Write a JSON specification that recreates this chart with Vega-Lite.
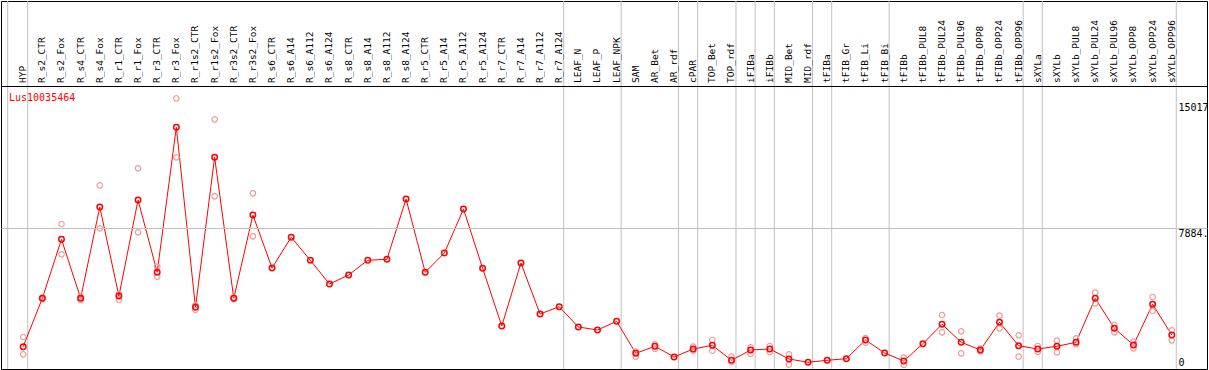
{
  "$schema": "https://vega.github.io/schema/vega-lite/v6.json",
  "width": 1206,
  "height": 368,
  "autosize": {"type": "none"},
  "padding": {"left": 1, "top": 1, "right": 2, "bottom": 1},
  "background": "white",
  "config": {"view": {"stroke": "black", "strokeWidth": 1}, "font": "DejaVu Sans Mono"},
  "title": {"text": "Lus10035464", "anchor": "start", "frame": "group", "orient": "top", "offset": -110, "dx": 8, "color": "#ff0000", "font": "DejaVu Sans Mono", "fontSize": 10, "fontWeight": "normal", "baseline": "alphabetic"},
  "datasets": {
    "means": [
      {"cat": "HYP", "value": 1188}, {"cat": "R_s2_CTR", "value": 3925}, {"cat": "R_s2_Fox", "value": 7262}, {"cat": "R_s4_CTR", "value": 3925}, {"cat": "R_s4_Fox", "value": 9089}, {"cat": "R_r1_CTR", "value": 4055}, {"cat": "R_r1_Fox", "value": 9485}, {"cat": "R_r3_CTR", "value": 5396}, {"cat": "R_r3_Fox", "value": 13597}, {"cat": "R_r1s2_CTR", "value": 3416}, {"cat": "R_r1s2_Fox", "value": 11900}, {"cat": "R_r3s2_CTR", "value": 3925}, {"cat": "R_r3s2_Fox", "value": 8637}, {"cat": "R_s6_CTR", "value": 5639}, {"cat": "R_s6_A14", "value": 7381}, {"cat": "R_s6_A112", "value": 6075}, {"cat": "R_s6_A124", "value": 4734}, {"cat": "R_s8_CTR", "value": 5243}, {"cat": "R_s8_A14", "value": 6075}, {"cat": "R_s8_A112", "value": 6131}, {"cat": "R_s8_A124", "value": 9542}, {"cat": "R_r5_CTR", "value": 5396}, {"cat": "R_r5_A14", "value": 6487}, {"cat": "R_r5_A112", "value": 8976}, {"cat": "R_r5_A124", "value": 5622}, {"cat": "R_r7_CTR", "value": 2359}, {"cat": "R_r7_A14", "value": 5922}, {"cat": "R_r7_A112", "value": 3037}, {"cat": "R_r7_A124", "value": 3450}, {"cat": "LEAF_N", "value": 2302}, {"cat": "LEAF_P", "value": 2132}, {"cat": "LEAF_NPK", "value": 2624}, {"cat": "SAM", "value": 814}, {"cat": "AR_Bet", "value": 1210}, {"cat": "AR_rdf", "value": 605}, {"cat": "cPAR", "value": 1058}, {"cat": "TOP_Bet", "value": 1267}, {"cat": "TOP_rdf", "value": 419}, {"cat": "iFIBa", "value": 1001}, {"cat": "iFIBb", "value": 1058}, {"cat": "MID_Bet", "value": 492}, {"cat": "MID_rdf", "value": 305}, {"cat": "tFIBa", "value": 419}, {"cat": "tFIB_Gr", "value": 509}, {"cat": "tFIB_Li", "value": 1567}, {"cat": "tFIB_Bi", "value": 831}, {"cat": "tFIBb", "value": 379}, {"cat": "tFIBb_PUL8", "value": 1357}, {"cat": "tFIBb_PUL24", "value": 2455}, {"cat": "tFIBb_PUL96", "value": 1437}, {"cat": "tFIBb_OPP8", "value": 1001}, {"cat": "tFIBb_OPP24", "value": 2568}, {"cat": "tFIBb_OPP96", "value": 1244}, {"cat": "sXYLa", "value": 1058}, {"cat": "sXYLb", "value": 1210}, {"cat": "sXYLb_PUL8", "value": 1437}, {"cat": "sXYLb_PUL24", "value": 3925}, {"cat": "sXYLb_PUL96", "value": 2228}, {"cat": "sXYLb_OPP8", "value": 1284}, {"cat": "sXYLb_OPP24", "value": 3586}, {"cat": "sXYLb_OPP96", "value": 1849}
    ],
    "reps": [
      {"cat": "HYP", "value": 1736}, {"cat": "HYP", "value": 758},
      {"cat": "R_s2_CTR", "value": 3880}, {"cat": "R_s2_CTR", "value": 3970},
      {"cat": "R_s2_Fox", "value": 8128}, {"cat": "R_s2_Fox", "value": 6414},
      {"cat": "R_s4_CTR", "value": 4016}, {"cat": "R_s4_CTR", "value": 3829},
      {"cat": "R_s4_Fox", "value": 10317}, {"cat": "R_s4_Fox", "value": 7884},
      {"cat": "R_r1_CTR", "value": 4168}, {"cat": "R_r1_CTR", "value": 3829},
      {"cat": "R_r1_Fox", "value": 11278}, {"cat": "R_r1_Fox", "value": 7658},
      {"cat": "R_r3_CTR", "value": 5713}, {"cat": "R_r3_CTR", "value": 5147},
      {"cat": "R_r3_Fox", "value": 15237}, {"cat": "R_r3_Fox", "value": 11900},
      {"cat": "R_r1s2_CTR", "value": 3546}, {"cat": "R_r1s2_CTR", "value": 3263},
      {"cat": "R_r1s2_Fox", "value": 14049}, {"cat": "R_r1s2_Fox", "value": 9694},
      {"cat": "R_r3s2_CTR", "value": 3880}, {"cat": "R_r3s2_CTR", "value": 3970},
      {"cat": "R_r3s2_Fox", "value": 9864}, {"cat": "R_r3s2_Fox", "value": 7432},
      {"cat": "SAM", "value": 905}, {"cat": "SAM", "value": 622},
      {"cat": "AR_Bet", "value": 1340}, {"cat": "AR_Bet", "value": 1075},
      {"cat": "cPAR", "value": 1188}, {"cat": "cPAR", "value": 962},
      {"cat": "TOP_Bet", "value": 1567}, {"cat": "TOP_Bet", "value": 962},
      {"cat": "TOP_rdf", "value": 622}, {"cat": "TOP_rdf", "value": 322},
      {"cat": "iFIBa", "value": 1154}, {"cat": "iFIBa", "value": 775},
      {"cat": "iFIBb", "value": 1227}, {"cat": "iFIBb", "value": 888},
      {"cat": "MID_Bet", "value": 758}, {"cat": "MID_Bet", "value": 170},
      {"cat": "tFIB_Li", "value": 1680}, {"cat": "tFIB_Li", "value": 1414},
      {"cat": "tFIBb", "value": 566}, {"cat": "tFIBb", "value": 153},
      {"cat": "tFIBb_PUL24", "value": 2981}, {"cat": "tFIBb_PUL24", "value": 2002},
      {"cat": "tFIBb_PUL96", "value": 2059}, {"cat": "tFIBb_PUL96", "value": 814},
      {"cat": "tFIBb_OPP8", "value": 1075}, {"cat": "tFIBb_OPP8", "value": 928},
      {"cat": "tFIBb_OPP24", "value": 2941}, {"cat": "tFIBb_OPP24", "value": 2228},
      {"cat": "tFIBb_OPP96", "value": 1833}, {"cat": "tFIBb_OPP96", "value": 622},
      {"cat": "sXYLa", "value": 1227}, {"cat": "sXYLa", "value": 888},
      {"cat": "sXYLb", "value": 1527}, {"cat": "sXYLb", "value": 871},
      {"cat": "sXYLb_PUL8", "value": 1663}, {"cat": "sXYLb_PUL8", "value": 1324},
      {"cat": "sXYLb_PUL24", "value": 4242}, {"cat": "sXYLb_PUL24", "value": 3642},
      {"cat": "sXYLb_PUL96", "value": 2415}, {"cat": "sXYLb_PUL96", "value": 2002},
      {"cat": "sXYLb_OPP8", "value": 1471}, {"cat": "sXYLb_OPP8", "value": 1097},
      {"cat": "sXYLb_OPP24", "value": 3999}, {"cat": "sXYLb_OPP24", "value": 3207},
      {"cat": "sXYLb_OPP96", "value": 2115}, {"cat": "sXYLb_OPP96", "value": 1550}
    ],
    "groups": [
      {"cat": "HYP"}, {"cat": "R_r7_A124"}, {"cat": "LEAF_NPK"}, {"cat": "AR_rdf"}, {"cat": "cPAR"}, {"cat": "TOP_rdf"}, {"cat": "iFIBa"}, {"cat": "iFIBb"}, {"cat": "MID_rdf"}, {"cat": "tFIBa"}, {"cat": "tFIB_Bi"}, {"cat": "tFIBb_OPP96"}, {"cat": "sXYLa"}, {"cat": "sXYLb_OPP96"}
    ],
    "first": [{"cat": "HYP"}]
  },
  "encoding": {
    "x": {
      "field": "cat",
      "type": "nominal",
      "scale": {
        "type": "band",
        "domain": ["HYP", "R_s2_CTR", "R_s2_Fox", "R_s4_CTR", "R_s4_Fox", "R_r1_CTR", "R_r1_Fox", "R_r3_CTR", "R_r3_Fox", "R_r1s2_CTR", "R_r1s2_Fox", "R_r3s2_CTR", "R_r3s2_Fox", "R_s6_CTR", "R_s6_A14", "R_s6_A112", "R_s6_A124", "R_s8_CTR", "R_s8_A14", "R_s8_A112", "R_s8_A124", "R_r5_CTR", "R_r5_A14", "R_r5_A112", "R_r5_A124", "R_r7_CTR", "R_r7_A14", "R_r7_A112", "R_r7_A124", "LEAF_N", "LEAF_P", "LEAF_NPK", "SAM", "AR_Bet", "AR_rdf", "cPAR", "TOP_Bet", "TOP_rdf", "iFIBa", "iFIBb", "MID_Bet", "MID_rdf", "tFIBa", "tFIB_Gr", "tFIB_Li", "tFIB_Bi", "tFIBb", "tFIBb_PUL8", "tFIBb_PUL24", "tFIBb_PUL96", "tFIBb_OPP8", "tFIBb_OPP24", "tFIBb_OPP96", "sXYLa", "sXYLb", "sXYLb_PUL8", "sXYLb_PUL24", "sXYLb_PUL96", "sXYLb_OPP8", "sXYLb_OPP24", "sXYLb_OPP96"],
        "paddingInner": 0,
        "paddingOuter": 1.2368,
        "align": 0.3298,
        "round": false
      },
      "axis": {
        "orient": "top",
        "offset": -84.5,
        "labelAngle": -90,
        "labelAlign": "left",
        "labelBaseline": "middle",
        "labelPadding": 3,
        "ticks": false,
        "domain": false,
        "grid": false,
        "title": null,
        "labelFont": "DejaVu Sans Mono",
        "labelFontSize": 9.5,
        "labelColor": "black",
        "labelOverlap": false,
        "labelBound": false,
        "labelFlush": false,
        "labelLimit": 0,
        "zindex": 1
      }
    }
  },
  "layer": [
    {
      "data": {"name": "groups"},
      "mark": {"type": "rule", "color": "#c0c0c0", "strokeWidth": 1, "xOffset": 4.5},
      "encoding": {}
    },
    {
      "data": {"name": "first"},
      "mark": {"type": "rule", "color": "#c0c0c0", "strokeWidth": 1, "xOffset": -15.5},
      "encoding": {}
    },
    {
      "data": {"name": "means"},
      "mark": {"type": "line", "color": "#ff0000", "strokeWidth": 1},
      "encoding": {
        "y": {
          "field": "value", "type": "quantitative",
          "scale": {"domain": [-74, 20741], "nice": false, "zero": false},
          "axis": {"orient": "right", "values": [0, 7884.5, 15017, 15961], "labelExpr": "datum.value > 15500 ? '' : (datum.value == 7884.5 ? '7884.' : datum.value + '')", "ticks": false, "domain": false, "grid": true, "gridColor": {"condition": {"test": "datum.value > 15500", "value": "black"}, "value": "#c0c0c0"}, "gridWidth": 1, "gridOpacity": {"condition": {"test": "(datum.value > 7000 && datum.value < 8000) || datum.value > 15500", "value": 1}, "value": 0}, "labelPadding": -29, "labelAlign": "left", "labelBaseline": {"condition": {"test": "datum.value == 0", "value": "bottom"}, "value": "top"}, "labelFont": "DejaVu Sans Mono", "labelFontSize": 10, "labelColor": "black", "labelFlush": false, "labelOverlap": false, "title": null, "zindex": 1}
        },
        "order": {"value": null}
      }
    },
    {
      "data": {"name": "reps"},
      "mark": {"type": "point", "shape": "circle", "filled": false, "color": "#f09a9a", "strokeWidth": 1.2, "size": 30, "opacity": 1},
      "encoding": {
        "y": {
          "field": "value", "type": "quantitative",
          "scale": {"domain": [-74, 20741], "nice": false, "zero": false},
          "axis": {"orient": "right", "values": [0, 7884.5, 15017, 15961], "labelExpr": "datum.value > 15500 ? '' : (datum.value == 7884.5 ? '7884.' : datum.value + '')", "ticks": false, "domain": false, "grid": true, "gridColor": {"condition": {"test": "datum.value > 15500", "value": "black"}, "value": "#c0c0c0"}, "gridWidth": 1, "gridOpacity": {"condition": {"test": "(datum.value > 7000 && datum.value < 8000) || datum.value > 15500", "value": 1}, "value": 0}, "labelPadding": -29, "labelAlign": "left", "labelBaseline": {"condition": {"test": "datum.value == 0", "value": "bottom"}, "value": "top"}, "labelFont": "DejaVu Sans Mono", "labelFontSize": 10, "labelColor": "black", "labelFlush": false, "labelOverlap": false, "title": null, "zindex": 1}
        }
      }
    },
    {
      "data": {"name": "means"},
      "mark": {"type": "point", "shape": "circle", "filled": false, "color": "#ff0000", "strokeWidth": 1.5, "size": 30, "opacity": 1},
      "encoding": {
        "y": {
          "field": "value", "type": "quantitative",
          "scale": {"domain": [-74, 20741], "nice": false, "zero": false},
          "axis": {"orient": "right", "values": [0, 7884.5, 15017, 15961], "labelExpr": "datum.value > 15500 ? '' : (datum.value == 7884.5 ? '7884.' : datum.value + '')", "ticks": false, "domain": false, "grid": true, "gridColor": {"condition": {"test": "datum.value > 15500", "value": "black"}, "value": "#c0c0c0"}, "gridWidth": 1, "gridOpacity": {"condition": {"test": "(datum.value > 7000 && datum.value < 8000) || datum.value > 15500", "value": 1}, "value": 0}, "labelPadding": -29, "labelAlign": "left", "labelBaseline": {"condition": {"test": "datum.value == 0", "value": "bottom"}, "value": "top"}, "labelFont": "DejaVu Sans Mono", "labelFontSize": 10, "labelColor": "black", "labelFlush": false, "labelOverlap": false, "title": null, "zindex": 1}
        }
      }
    }
  ]
}
